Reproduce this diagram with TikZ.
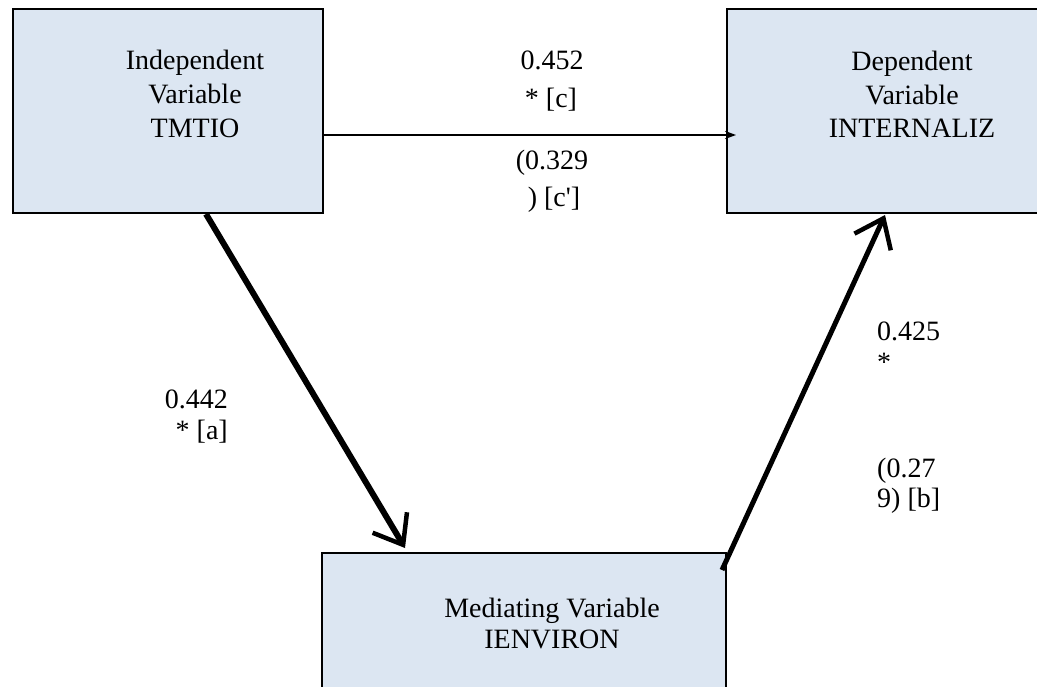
\documentclass[tikz,border=0pt]{standalone}
\usepackage{fontspec}
\setmainfont{Liberation Serif}
\usetikzlibrary{arrows.meta}
\definecolor{boxfill}{HTML}{DCE6F2}
\begin{document}
\begin{tikzpicture}[x=1pt,y=-1pt,
  box/.style={draw=black, line width=2pt, fill=boxfill, inner sep=0pt, anchor=north west},
  txt/.style={font=\fontsize{28}{34}\selectfont, inner sep=0pt},
  ctxt/.style={txt, anchor=base},
  ltxt/.style={txt, anchor=base west},
  rtxt/.style={txt, anchor=base east},
  thinarrow/.style={line width=1.4pt, -{Stealth[length=11pt,width=8pt]}},
  thickarrow/.style={line width=6pt, -{Straight Barb[length=26pt,width=40pt,line width=4.5pt]}}]
\useasboundingbox[fill=white] (0,0) rectangle (1037,687);
% boxes
\node[box, minimum width=310pt, minimum height=204pt] (A) at (12,8) {};
\node[box, minimum width=330pt, minimum height=204pt] (Y) at (726,8) {};
\node[box, minimum width=404pt, minimum height=170pt] (M) at (321,552) {};
% box texts
\node[ctxt] (a1) at (195,70) {Independent};
\node[ctxt] (a2) at (195,104) {Variable};
\node[ctxt] (a3) at (195,138) {TMTIO};
\node[ctxt] (y1) at (912,71) {Dependent};
\node[ctxt] (y2) at (912,105) {Variable};
\node[ctxt] (y3) at (912,138) {INTERNALIZ};
\node[ctxt] (m1) at (552,617) {Mediating Variable};
\node[ctxt] (m2) at (552,648) {IENVIRON};
% connectors
\draw[thinarrow] ([yshift=-24pt]A.east) -- ([xshift=10pt,yshift=-24pt]Y.west);
\draw[thickarrow] ([xshift=38pt]A.south) -- ([xshift=-119pt,yshift=4pt]M.north);
\draw[thickarrow, line width=5pt] ([xshift=-5pt,yshift=-18pt]M.north east) -- ([xshift=-7pt,yshift=-1pt]Y.south);
% labels
\node[ctxt] (c1) at (552,70) {0.452};
\node[ctxt] (c2) at (551,108) {* [c]};
\node[ctxt] (c3) at (552,170) {(0.329};
\node[ctxt] (c4) at (554,207) {) [c\textquotesingle]};
\node[rtxt] (l1) at (228,408) {0.442};
\node[rtxt] (l2) at (228,439) {* [a]};
\node[ltxt] (r1) at (877,341) {0.425};
\node[ltxt] (r2) at (877,371) {*};
\node[ltxt] (r3) at (877,477) {(0.27};
\node[ltxt] (r4) at (877,507) {9) [b]};
\end{tikzpicture}
\end{document}
